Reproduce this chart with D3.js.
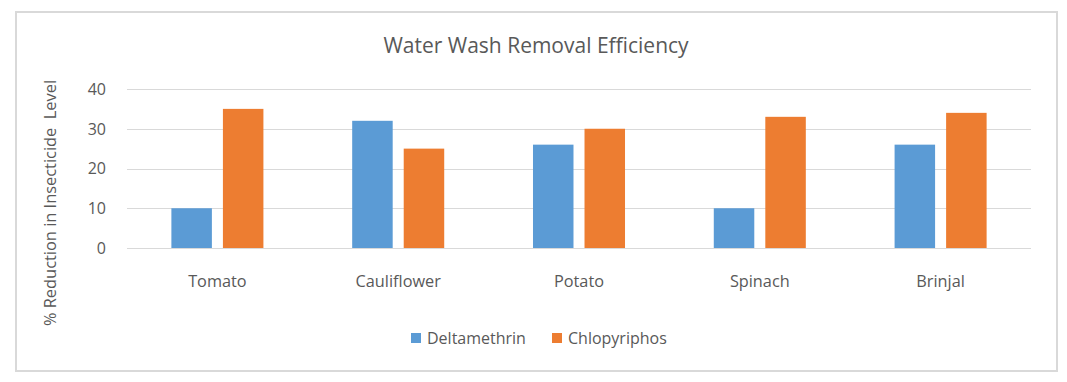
<!DOCTYPE html>
<html>
<head>
<meta charset="utf-8">
<script src="https://cdn.jsdelivr.net/npm/d3@7"></script>
<style>
  body { margin: 0; background: #fff; }
  text { font-family: "Open Sans", "Noto Sans", sans-serif; fill: #595959; }
</style>
</head>
<body>
<div id="chart"></div>
<script>
// values
const categories = ["Tomato", "Cauliflower", "Potato", "Spinach", "Brinjal"];
const seriesNames = ["Deltamethrin", "Chlopyriphos"];
const deltamethrin = [10, 32, 26, 10, 26];
const chlopyriphos = [35, 25, 30, 33, 34];
const yTicks = [0, 10, 20, 30, 40];

const colors = ["#5B9BD5", "#ED7D31"];
const width = 1067, height = 382;
const plot = { left: 127, right: 1031, top: 89, bottom: 248 };

const svg = d3.select("#chart").append("svg")
    .attr("width", width)
    .attr("height", height);

// chart area frame
svg.append("rect")
    .attr("x", 16).attr("y", 12)
    .attr("width", 1041).attr("height", 359)
    .attr("fill", "#fff")
    .attr("stroke", "#d9d9d9")
    .attr("stroke-width", 2);

const x = d3.scaleBand()
    .domain(categories)
    .range([plot.left, plot.right]);

const groupFrac = 0.509;
const x1 = d3.scaleBand()
    .domain(seriesNames)
    .range([0, x.bandwidth() * groupFrac])
    .paddingInner(0.214);

const y = d3.scaleLinear()
    .domain([0, 40])
    .range([plot.bottom, plot.top]);

// gridlines
svg.append("g")
    .selectAll("line")
    .data(yTicks)
    .join("line")
    .attr("x1", plot.left).attr("x2", plot.right)
    .attr("y1", d => Math.round(y(d)) + 0.5)
    .attr("y2", d => Math.round(y(d)) + 0.5)
    .attr("stroke", "#d9d9d9")
    .attr("stroke-width", 1);

// y tick labels
svg.append("g")
    .selectAll("text")
    .data(yTicks)
    .join("text")
    .attr("x", 106)
    .attr("y", d => y(d))
    .attr("dy", "0.36em")
    .attr("text-anchor", "end")
    .style("font-size", "16px")
    .text(d => d);

// bars
const rows = categories.map((c, i) => ({ cat: c, values: [deltamethrin[i], chlopyriphos[i]] }));
const offset = x.bandwidth() * (1 - groupFrac) / 2;

svg.append("g")
    .selectAll("g")
    .data(rows)
    .join("g")
    .attr("transform", d => `translate(${x(d.cat) + offset},0)`)
    .selectAll("rect")
    .data(d => d.values.map((v, j) => ({ name: seriesNames[j], v, j })))
    .join("rect")
    .attr("x", d => x1(d.name))
    .attr("y", d => y(d.v))
    .attr("width", x1.bandwidth())
    .attr("height", d => plot.bottom - y(d.v))
    .attr("fill", d => colors[d.j]);

// category labels
svg.append("g")
    .selectAll("text")
    .data(categories)
    .join("text")
    .attr("x", d => x(d) + x.bandwidth() / 2)
    .attr("y", 287)
    .attr("text-anchor", "middle")
    .style("font-size", "16.3px")
    .text(d => d);

// title
svg.append("text")
    .attr("x", 536).attr("y", 53)
    .attr("text-anchor", "middle")
    .style("font-size", "21px")
    .text("Water Wash Removal Efficiency");

// y axis title
svg.append("text")
    .attr("transform", "translate(56,203) rotate(-90)")
    .attr("text-anchor", "middle")
    .style("font-size", "16.4px")
    .style("white-space", "pre")
    .text("% Reduction in Insecticide  Level");

// legend
const legendX = [411, 552];
const legend = svg.append("g")
    .selectAll("g")
    .data(seriesNames)
    .join("g")
    .attr("transform", (d, i) => `translate(${legendX[i]},333)`);
legend.append("rect")
    .attr("width", 10).attr("height", 10)
    .attr("fill", (d, i) => colors[i]);
legend.append("text")
    .attr("x", 16).attr("y", 5)
    .attr("dy", "0.36em")
    .style("font-size", "16px")
    .text(d => d);
</script>
</body>
</html>
